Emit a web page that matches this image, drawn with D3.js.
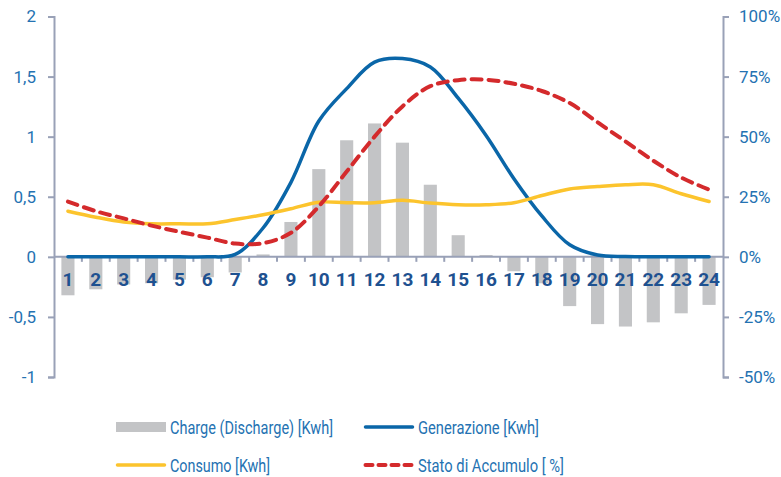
<!DOCTYPE html>
<html>
<head>
<meta charset="utf-8">
<script src="https://cdn.jsdelivr.net/npm/d3@7"></script>
<style>
  html, body { margin: 0; padding: 0; background: #fff; }
  svg { display: block; font-family: Roboto, "Noto Sans", sans-serif; }
</style>
</head>
<body>
<svg id="chart" width="781" height="477"></svg>
<script>
// Hourly energy profile: battery charge/discharge, PV generation, consumption, state of charge
const hours = d3.range(1, 25);
const charge = [-0.32, -0.27, -0.23, -0.22, -0.19, -0.17, -0.13, 0.02, 0.29, 0.73, 0.97, 1.11,
                0.95, 0.60, 0.18, 0.015, -0.12, -0.22, -0.41, -0.56, -0.58, -0.545, -0.47, -0.40];
const generazione = [0, 0, 0, 0, 0, 0, 0.02, 0.24, 0.62, 1.13, 1.40, 1.62,
                     1.65, 1.58, 1.32, 1.01, 0.65, 0.34, 0.10, 0.015, 0.003, 0, 0, 0];
const consumo = [0.38, 0.33, 0.29, 0.275, 0.275, 0.275, 0.31, 0.35, 0.40, 0.455, 0.45, 0.45,
                 0.47, 0.447, 0.433, 0.433, 0.45, 0.51, 0.565, 0.585, 0.60, 0.60, 0.525, 0.46];
const statoPct = [23, 19, 16, 13, 10.4, 8, 5.5, 5.7, 10, 21, 35.5, 50,
                  62.6, 71, 73.5, 73.7, 72, 69, 64, 56, 48, 40, 33, 28];
const leftTicks = [-1, -0.5, 0, 0.5, 1, 1.5, 2];
const rightTicks = [-50, -25, 0, 25, 50, 75, 100];

const colors = {
  bar: "#c3c4c6",
  gen: "#0a66a8",
  cons: "#fcc42d",
  stato: "#d42a2c",
  axis: "#99a1b7",
  tickText: "#2472b2",
  catText: "#1e5190"
};

const svg = d3.select("#chart");
const plotLeft = 54, plotRight = 723, plotTop = 16.5, plotBottom = 377;

const x = d3.scaleBand().domain(hours).range([plotLeft, plotRight])
  .paddingInner(0.53).paddingOuter(0.265);
const y = d3.scaleLinear().domain([-1, 2]).range([plotBottom, plotTop]);
const yPct = d3.scaleLinear().domain([-50, 100]).range([plotBottom, plotTop]);
const cx = h => x(h) + x.bandwidth() / 2;

// Bars
svg.append("g").selectAll("rect").data(hours).join("rect")
  .attr("x", h => x(h))
  .attr("width", x.bandwidth())
  .attr("y", (h, i) => y(Math.max(0, charge[i])))
  .attr("height", (h, i) => Math.abs(y(charge[i]) - y(0)))
  .attr("fill", colors.bar);

// Left axis
const leftAxis = svg.append("g").attr("transform", `translate(${plotLeft},0)`)
  .call(d3.axisLeft(y).tickValues(leftTicks).tickSize(6).tickPadding(12)
    .tickFormat(d => String(d).replace(".", ",")));
leftAxis.select(".domain").attr("stroke", colors.axis).attr("stroke-width", 2);
leftAxis.selectAll(".tick line").attr("stroke", colors.axis).attr("stroke-width", 2);
leftAxis.selectAll(".tick text").attr("fill", colors.tickText).attr("font-size", 17)
  .attr("font-family", "Roboto, sans-serif");

// Right axis
const rightAxis = svg.append("g").attr("transform", `translate(${plotRight},0)`)
  .call(d3.axisRight(yPct).tickValues(rightTicks).tickSize(6).tickPadding(10)
    .tickFormat(d => d + "%"));
rightAxis.select(".domain").attr("stroke", colors.axis).attr("stroke-width", 2);
rightAxis.selectAll(".tick line").attr("stroke", colors.axis).attr("stroke-width", 2);
rightAxis.selectAll(".tick text").attr("fill", colors.tickText).attr("font-size", 17)
  .attr("font-family", "Roboto, sans-serif");

// Category axis along zero
const boundaries = d3.range(0, 25).map(i => plotLeft + i * x.step());
const zeroG = svg.append("g");
zeroG.append("line")
  .attr("x1", plotLeft).attr("x2", plotRight)
  .attr("y1", y(0)).attr("y2", y(0))
  .attr("stroke", colors.axis).attr("stroke-width", 2);
zeroG.selectAll("line.tk").data(boundaries.slice(1, -1)).join("line").attr("class", "tk")
  .attr("x1", d => d).attr("x2", d => d)
  .attr("y1", y(0)).attr("y2", y(0) + 5)
  .attr("stroke", colors.axis).attr("stroke-width", 2);

// Lines
const curve = d3.curveCatmullRom.alpha(0.5);
const line = vals => d3.line().curve(curve)
  .x((d, i) => cx(hours[i])).y(d => y(d))(vals);

svg.append("path").attr("d", line(generazione))
  .attr("fill", "none").attr("stroke", colors.gen).attr("stroke-width", 3.5)
  .attr("stroke-linejoin", "round").attr("stroke-linecap", "round");
svg.append("path").attr("d", line(consumo))
  .attr("fill", "none").attr("stroke", colors.cons).attr("stroke-width", 3.5)
  .attr("stroke-linejoin", "round").attr("stroke-linecap", "round");
svg.append("path")
  .attr("d", d3.line().curve(curve)
    .x((d, i) => cx(hours[i])).y(d => yPct(d))(statoPct))
  .attr("fill", "none").attr("stroke", colors.stato).attr("stroke-width", 4)
  .attr("stroke-dasharray", "10,7").attr("stroke-linecap", "round");

// Hour labels
svg.append("g").selectAll("text").data(hours).join("text")
  .attr("x", h => cx(h))
  .attr("y", y(0) + 29)
  .attr("text-anchor", "middle")
  .attr("font-size", 19).attr("font-weight", "bold")
  .attr("fill", colors.catText)
  .text(h => h);

// Legend (labels condensed to their column widths)
const legend = [
  { label: "Charge (Discharge) [Kwh]", type: "bar", col: 0, row: 0, w: 163 },
  { label: "Generazione [Kwh]", type: "gen", col: 1, row: 0, w: 121 },
  { label: "Consumo [Kwh]", type: "cons", col: 0, row: 1, w: 100 },
  { label: "Stato di Accumulo [ %]", type: "stato", col: 1, row: 1, w: 146 }
];
const legX = [116, 364], legY = [427, 465];
const lg = svg.append("g").selectAll("g").data(legend).join("g")
  .attr("transform", d => `translate(${legX[d.col]},${legY[d.row]})`);
lg.each(function (d) {
  const g = d3.select(this);
  if (d.type === "bar") {
    g.append("rect").attr("x", 0).attr("y", -5).attr("width", 50).attr("height", 10)
      .attr("fill", colors.bar);
  } else {
    const l = g.append("line").attr("x1", 1.5).attr("x2", 48.5).attr("y1", 0).attr("y2", 0)
      .attr("stroke-linecap", "round");
    if (d.type === "gen") l.attr("stroke", colors.gen).attr("stroke-width", 3.5);
    if (d.type === "cons") l.attr("stroke", colors.cons).attr("stroke-width", 3.5);
    if (d.type === "stato") l.attr("stroke", colors.stato).attr("stroke-width", 4)
      .attr("stroke-dasharray", "7,6");
  }
  g.append("text").attr("x", 54).attr("y", 6.5)
    .attr("font-size", 18).attr("fill", colors.tickText)
    .attr("textLength", d.w).attr("lengthAdjust", "spacingAndGlyphs")
    .text(d.label);
});
</script>
</body>
</html>
